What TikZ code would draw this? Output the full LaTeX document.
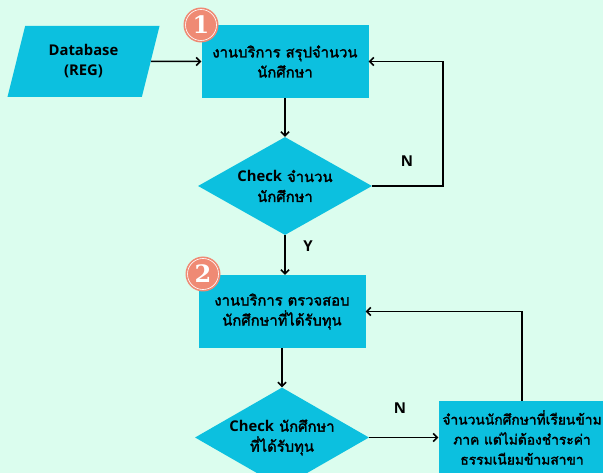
\documentclass[tikz,border=0pt]{standalone}
\usepackage{fontspec}
\setmainfont{Loma}[Script=Thai,AutoFakeBold=2]
\newfontfamily\latin{Open Sans}
\newfontfamily\digitfont{DejaVu Serif}
\usetikzlibrary{shapes.geometric,arrows.meta,positioning}
\definecolor{bgmint}{HTML}{DBFDEE}
\definecolor{boxcyan}{HTML}{0CC0DF}
\definecolor{badgered}{HTML}{EF8A74}

\begin{document}
\begin{tikzpicture}[x=1pt,y=-1pt,font=\bfseries\fontsize{14.8}{20}\selectfont]
    \tikzstyle{process}=[rectangle,fill=boxcyan,minimum width=167pt,minimum height=73pt,inner sep=2pt,align=center]
    \tikzstyle{decision}=[diamond,fill=boxcyan,aspect=1.78,minimum width=174pt,minimum height=98pt,inner sep=-8pt,align=center]
    \tikzstyle{data}=[trapezium,fill=boxcyan,trapezium stretches=true,trapezium left angle=74,trapezium right angle=106,minimum width=153pt,minimum height=71pt,align=center]
    \tikzstyle{badge}=[circle,fill=badgered,minimum size=35pt,inner sep=0pt,text=white,font=\digitfont\bfseries\fontsize{24}{24}\selectfont,
        path picture={\draw[white,line width=0.6pt] (path picture bounding box.center) circle (15.5pt);}]
    \tikzstyle{annot}=[font=\latin\bfseries\fontsize{15}{16}\selectfont]
    \tikzstyle{edge}=[-{Straight Barb[length=4pt,width=8pt]},line width=1.5pt]

    \fill[bgmint] (0,0) rectangle (603,473);
    \useasboundingbox (0,0) rectangle (603,473);

    \node[data] (db) at (83.5,61.5) {{\latin Database}\\{\latin (REG)}};
    \node[process] (count) at (285,61.5) {งานบริการ สรุปจำนวน\\นักศึกษา};
    \node[decision] (checkcount) at (285,186) {{\latin Check} จำนวน\\นักศึกษา};
    \node[process] (verify) at (282,311.5) {งานบริการ ตรวจสอบ\\นักศึกษาที่ได้รับทุน};
    \node[decision,minimum height=100pt] (checkgrant) at (282,437.5) {{\latin Check} นักศึกษา\\ที่ได้รับทุน};
    \node[process,font=\bfseries\fontsize{13.8}{20}\selectfont] (nofee) at (522,437.5) {จำนวนนักศึกษาที่เรียนข้าม\\ภาค แต่ไม่ต้องชำระค่า\\ธรรมเนียมข้ามสาขา};

    \node[badge] (one) at (201,25) {1};
    \node[badge] (two) at (203,274) {2};

    \coordinate (loop) at (443,186);

    \draw[edge] (db.east) -- (count.west);
    \draw[edge] (count) -- (checkcount);
    \draw[edge] (checkcount.east) -- (loop) |- (count.east);
    \draw[edge] (checkcount.south) -- (checkcount.south |- verify.north);
    \draw[edge] (verify) -- (checkgrant);
    \draw[edge] (checkgrant) -- (nofee);
    \draw[edge] (nofee.north) |- (verify.east);

    \node[annot] (no1) at (407,161) {N};
    \node[annot] (yes) at (308,246) {Y};
    \node[annot] (no2) at (400,408) {N};
\end{tikzpicture}
\end{document}
